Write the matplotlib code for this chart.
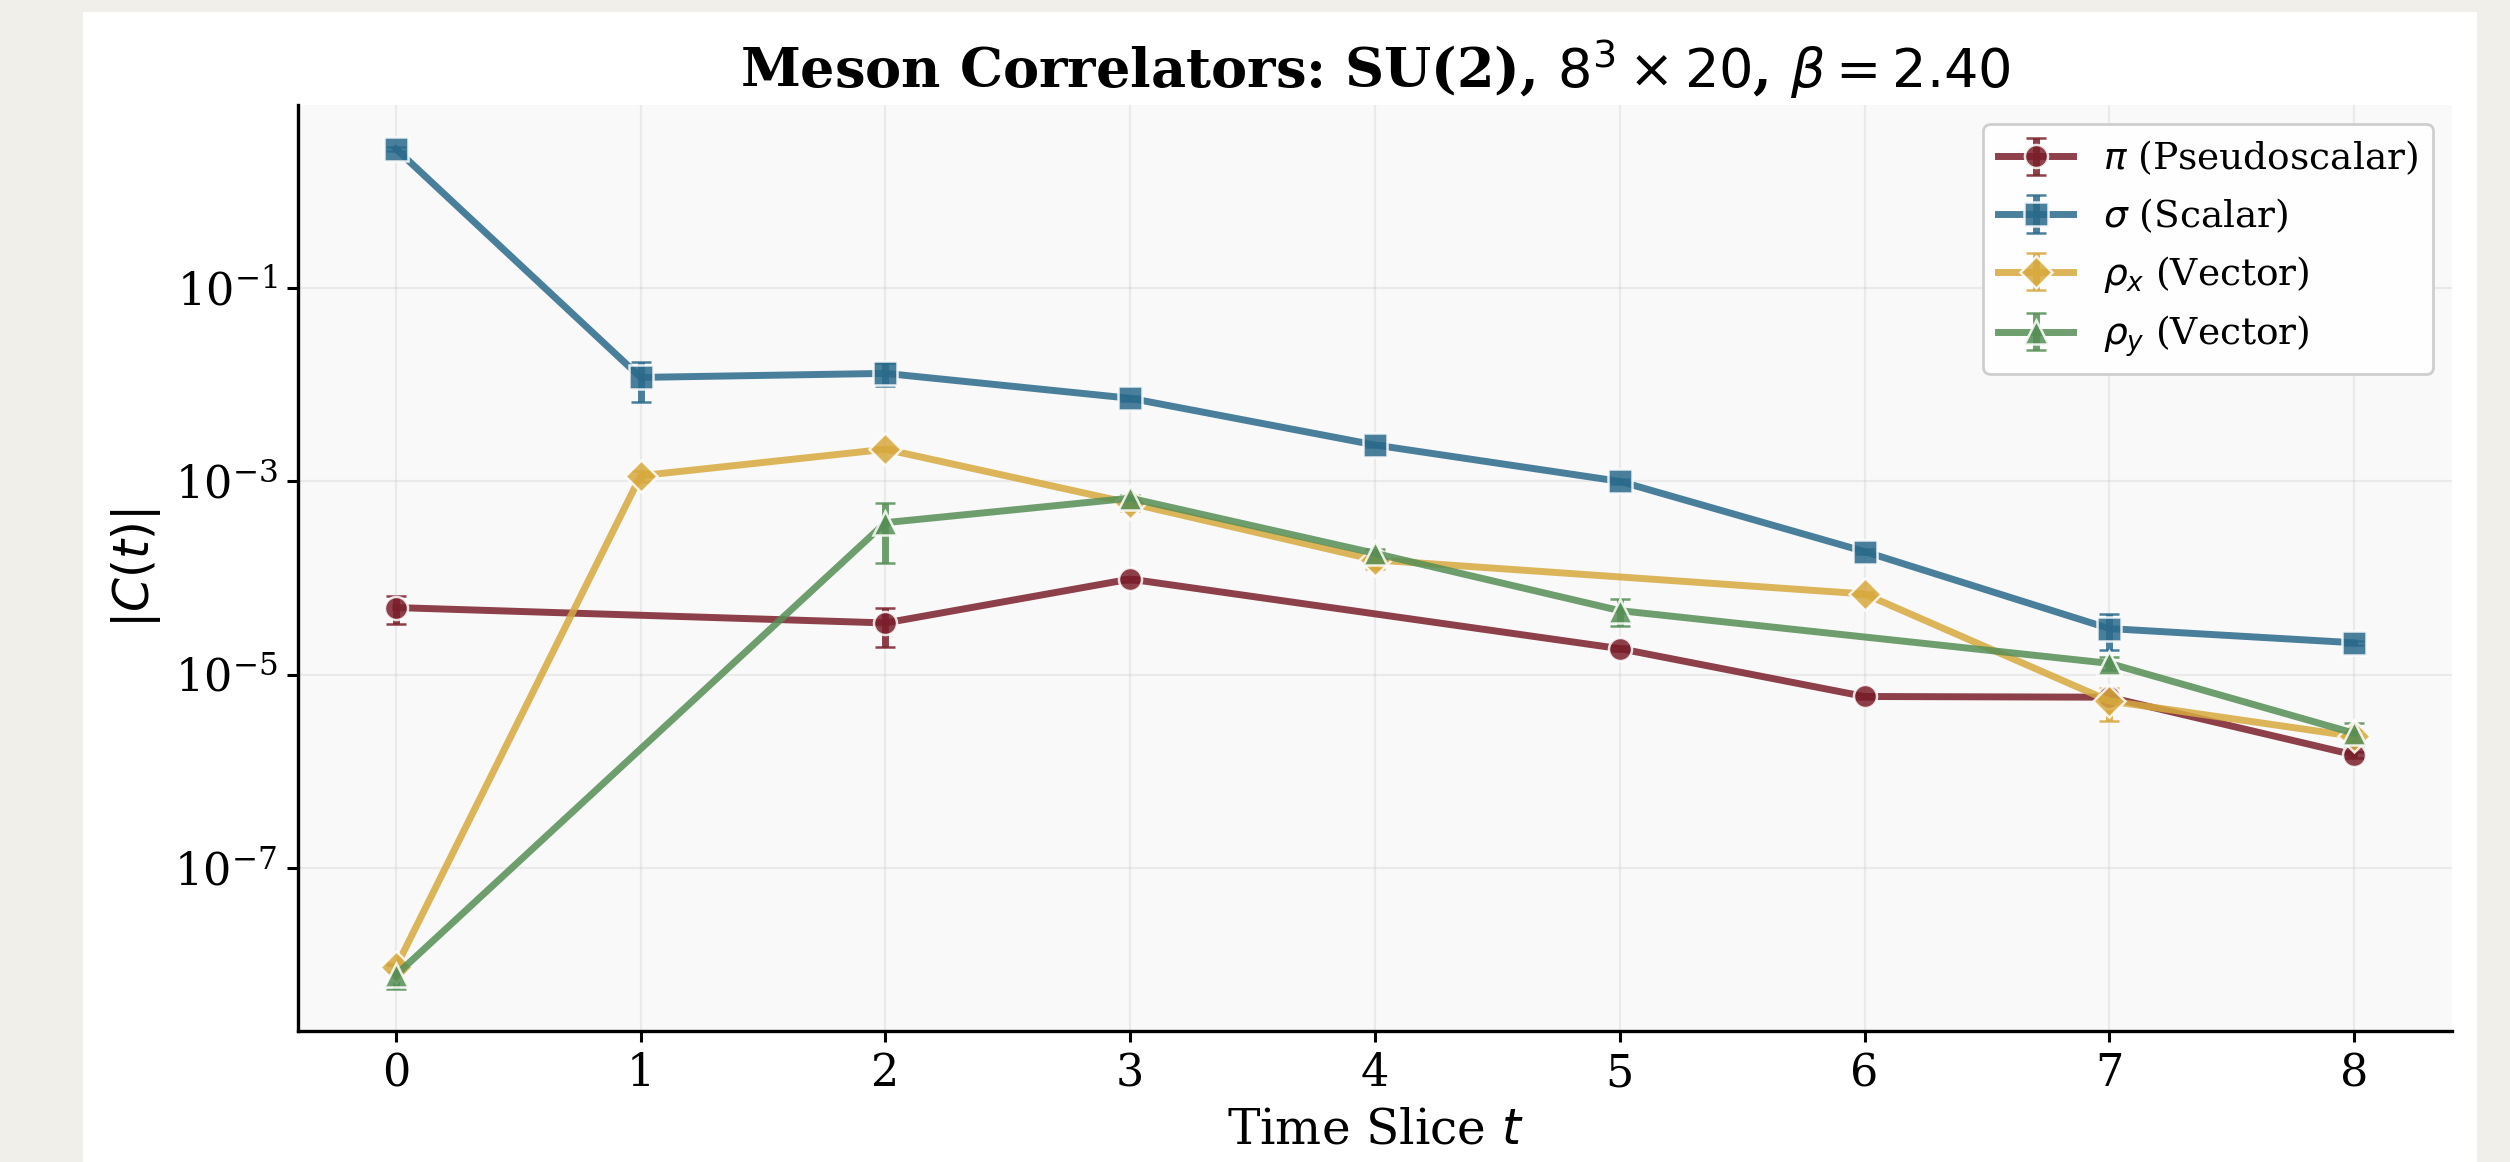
import matplotlib
matplotlib.use("Agg")
import matplotlib.pyplot as plt
from matplotlib.patches import Rectangle

plt.rcParams['font.family'] = 'DejaVu Serif'
plt.rcParams['mathtext.fontset'] = 'dejavusans'

# correlator data |C(t)| per channel (missing time slices are simply absent)
t_pi = [0, 2, 3, 5, 6, 7, 8]
c_pi = [4.95e-5, 3.43e-5, 9.75e-5, 1.86e-5, 5.95e-6, 5.85e-6, 1.48e-6]
e_pi = [1.6e-5, 1.5e-5, 0.6e-5, 0.1e-5, 0.3e-6, 0.3e-6, 0.1e-6]

t_sigma = [0, 1, 2, 3, 4, 5, 6, 7, 8]
c_sigma = [2.75, 0.0119, 0.0131, 0.00724, 0.00238, 0.00100, 1.88e-4, 3.0e-5, 2.14e-5]
e_sigma = [0.15, 0.0053, 0.0035, 0.0004, 0.0001, 0.00005, 1e-5, 1.2e-5, 1e-6]

t_rhox = [0, 1, 2, 3, 4, 6, 7, 8]
c_rhox = [9.4e-9, 1.145e-3, 2.15e-3, 5.95e-4, 1.54e-4, 6.84e-5, 5.35e-6, 2.3e-6]
e_rhox = [1e-9, 1.5e-4, 1e-4, 1e-4, 3e-5, 3e-6, 2e-6, 4e-7]

t_rhoy = [0, 2, 3, 4, 5, 7, 8]
c_rhoy = [7.8e-9, 3.74e-4, 6.7e-4, 1.8e-4, 4.6e-5, 1.31e-5, 2.48e-6]
e_rhoy = [2.2e-9, 2.3e-4, 6e-5, 2e-5, 1.4e-5, 2e-6, 7e-7]

W, H = 2510, 1162
fig = plt.figure(figsize=(W / 200, H / 200), dpi=200, facecolor='#f0efea')
fig.add_artist(Rectangle((83 / W, 0), (2477 - 83) / W, (H - 12) / H,
                         transform=fig.transFigure, facecolor='white',
                         edgecolor='none', zorder=0))

ax = fig.add_axes([298 / W, 1 - 1031 / H, (2452 - 298) / W, (1031 - 105) / H])
ax.set_facecolor('#f9f9f9')

series = [
    (t_pi, c_pi, e_pi, '#7A1F2B', 'o', r'$\pi$ (Pseudoscalar)'),
    (t_sigma, c_sigma, e_sigma, '#2B6A8B', 's', r'$\sigma$ (Scalar)'),
    (t_rhox, c_rhox, e_rhox, '#D7A93E', 'D', r'$\rho_x$ (Vector)'),
    (t_rhoy, c_rhoy, e_rhoy, '#568E56', '^', r'$\rho_y$ (Vector)'),
]
for t, c, e, col, mk, lab in series:
    ax.errorbar(t, c, yerr=e, color=col, marker=mk, markersize=8.3,
                markeredgecolor='white', markeredgewidth=0.9, linewidth=2.5,
                capsize=3.6, alpha=0.85, label=lab)

ax.set_yscale('log')
ax.set_xlim(-0.4, 8.4)
ax.set_ylim(2.06e-9, 7.83)
ax.set_yticks([1e-7, 1e-5, 1e-3, 1e-1])
ax.yaxis.set_minor_locator(matplotlib.ticker.NullLocator())
ax.set_xticks(range(9))
ax.grid(True, color='#c8c8c8', alpha=0.3, linewidth=0.8)
ax.set_axisbelow(True)

for s in ['top', 'right']:
    ax.spines[s].set_visible(False)
for s in ['left', 'bottom']:
    ax.spines[s].set_linewidth(1.2)
ax.tick_params(labelsize=16, length=4, width=1.1)

ax.set_xlabel('Time Slice $t$', fontsize=17.5)
ax.set_ylabel('$|C(t)|$', fontsize=17.5)
ax.set_title(r'Meson Correlators: SU(2), $8^3 \times 20$, $\beta = 2.40$',
             fontsize=19.5, fontweight='bold')

leg = ax.legend(loc='upper right', fontsize=13.5, framealpha=0.95,
                edgecolor='#cccccc', fancybox=True)

fig.savefig('out.png', dpi=200, facecolor=fig.get_facecolor())
